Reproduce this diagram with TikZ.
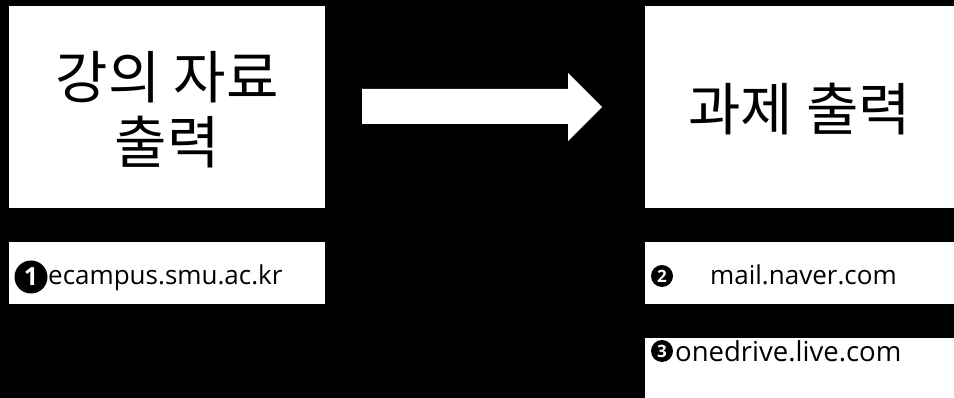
\documentclass[tikz,border=0pt]{standalone}
\usepackage{fontspec}
\newfontfamily\kofont{Noto Sans CJK KR}
\setmainfont{Open Sans}
\begin{document}
\begin{tikzpicture}[x=1pt,y=-1pt,
  box/.style={fill=white,draw=none,inner sep=0pt,anchor=north west},
  big/.style={font=\kofont\fontsize{57}{65}\selectfont,align=center,text=black},
  url/.style={font=\fontsize{26}{30}\selectfont,text=black,anchor=base west,inner sep=0pt},
  num/.style={circle,fill=black,text=white,inner sep=0pt,font=\bfseries\fontsize{17}{17}\selectfont}]
\useasboundingbox[fill=black] (0,0) rectangle (954,398);
\node[box,minimum width=316pt,minimum height=202pt] (lbox) at (9,6) {};
\node[box,minimum width=309pt,minimum height=202pt] (rbox) at (645,6) {};
\node[big] (ltext) at ([yshift=-2pt]lbox.center) {강의 자료\\출력};
\node[big] (rtext) at ([yshift=-2pt]rbox.center) {과제 출력};
\fill[white] (362,89) -- (568,89) -- (568,73) -- (602,107) -- (568,141) -- (568,124) -- (362,124) -- cycle;
\node[box,minimum width=316pt,minimum height=62pt] (ubox1) at (9,242) {};
\node[box,minimum width=309pt,minimum height=62pt] (ubox2) at (645,242) {};
\node[box,minimum width=309pt,minimum height=60pt] (ubox3) at (645,338) {};
\node[num,minimum size=33pt,font=\bfseries\fontsize{25}{25}\selectfont] (n1) at (31,277) {1};
\node[url] (u1) at (48,285) {ecampus.smu.ac.kr};
\node[num,minimum size=22pt] (n2) at (662,276) {2};
\node[url] (u2) at (710,285) {mail.naver.com};
\node[num,minimum size=22pt] (n3) at (662,351) {3};
\node[url,font=\fontsize{27.5}{30}\selectfont] (u3) at (675,361) {onedrive.live.com};
\end{tikzpicture}
\end{document}
